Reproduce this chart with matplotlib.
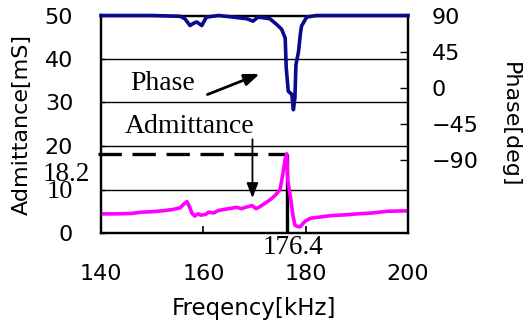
import matplotlib
matplotlib.use("Agg")
import matplotlib.pyplot as plt
from matplotlib import transforms

# ---- data ----
adm_freq = [140, 143, 146, 148, 150, 152, 154, 155.5, 156.3, 156.8, 157.3, 157.8, 158.3,
            159, 159.5, 160.5, 161, 162, 163, 165, 166.5, 167.5, 168.5, 169.5, 170.3, 171,
            172, 173, 174, 175, 175.6, 176, 176.3, 176.5, 176.8, 177.1, 177.5, 177.9, 178.4,
            178.9, 179.5, 180, 181, 183, 185, 188, 190, 193, 196, 200]
adm_val = [4.4, 4.4, 4.5, 4.8, 4.9, 5.1, 5.4, 5.8, 6.8, 7.2, 6.0, 4.5, 3.9,
           4.4, 4.1, 4.3, 4.8, 4.6, 5.2, 5.6, 5.9, 5.6, 6.0, 6.3, 5.6, 6.0,
           6.8, 7.6, 8.6, 10.0, 14.0, 17.0, 18.2, 12.0, 10.0, 7.6, 4.1, 1.8, 1.5,
           1.4, 2.2, 2.8, 3.4, 3.7, 4.0, 4.2, 4.4, 4.6, 5.0, 5.1]

ph_freq = [140, 150, 155.5, 156.4, 157.4, 158.0, 158.7, 159.7, 160.6, 163, 165.8, 168.5,
           169.7, 170.7, 173, 174.3, 175.3, 176.0, 176.2, 176.6, 177.3, 177.6, 177.9, 178.1,
           178.6, 179.0, 179.2, 180.2, 182.1, 190, 200]
ph_val = [90, 90, 89, 86, 77.5, 80, 82, 77.5, 88, 90, 88, 86,
          83, 88, 86, 79, 73, 62, 25, -4, -8, -27, -12, 29,
          45, 69, 77, 88, 90, 90, 90]

peak_freq = 176.4
peak_adm = 18.2

x_ticks = [140, 160, 180, 200]
y_ticks = [0, 10, 20, 30, 40, 50]
y2_ticks = [-90, -45, 0, 45, 90]
y2_labels = ["\u221290", "\u221245", "0", "45", "90"]

W, H = 529, 325
fig = plt.figure(figsize=(W / 100, H / 100), dpi=100)
ax = fig.add_axes([101 / W, (H - 233) / H, 307 / W, 217.5 / H])
ax2 = ax.twinx()

sans = "DejaVu Sans"
serif = "Liberation Serif"

ax.set_xlim(140, 200)
ax.set_ylim(0, 50)
ax2.set_ylim(-180, 90)

for a in (ax, ax2):
    for s in a.spines.values():
        s.set_linewidth(1.6)
        s.set_color("black")

# grid lines
for g in [10, 20, 30, 40]:
    ax.axhline(g, color="black", lw=1.0, zorder=1)

# peak marker lines
ax.plot([139.4, peak_freq], [peak_adm, peak_adm], color="black", lw=2.4,
        linestyle=(0, (7, 3.2)), clip_on=False, zorder=2, solid_capstyle="butt",
        dash_capstyle="butt")
ax.plot([peak_freq, peak_freq], [0, peak_adm], color="black", lw=2.4, zorder=2,
        solid_capstyle="butt")

# admittance curve
ax.plot(adm_freq, adm_val, color="#ff00ff", lw=2.6, zorder=3)

# phase curve
ax2.plot(ph_freq, ph_val, color="#0a0a8c", lw=2.6, zorder=3, clip_on=False)

# ticks
ax.set_xticks(x_ticks)
ax.set_xticklabels([str(v) for v in x_ticks], fontsize=16, family=sans)
ax.set_yticks(y_ticks)
ax.set_yticklabels([str(v) for v in y_ticks], fontsize=16, family=sans)
for lbl in ax.get_yticklabels():
    if lbl.get_text() == "10":
        lbl.set_fontfamily(serif)
        lbl.set_fontsize(19)
ax.tick_params(axis="y", direction="in", length=3, width=1, pad=20)
ax.tick_params(axis="x", direction="in", length=5, width=1.2, pad=22)
ax2.set_yticks(y2_ticks)
ax2.set_yticklabels(y2_labels, fontsize=16, family=sans)
ax2.tick_params(axis="y", direction="in", length=6, width=1, pad=17)

ax.set_xlabel("Freqency[kHz]", fontsize=16.5, family=sans, labelpad=10)
ax.set_ylabel("Admittance[mS]", fontsize=16, family=sans, labelpad=9)
ax2.set_ylabel("Phase[deg]", fontsize=16, family=sans, rotation=-90, labelpad=30)

# annotations
ax.annotate("", xy=(171.5, 36.8), xytext=(160.3, 31.6),
            arrowprops=dict(arrowstyle="-|>,head_length=0.9,head_width=0.35",
                            color="black", lw=2), zorder=5)
ax.text(152.0, 34.3, "Phase", fontsize=20, family=serif, ha="center", va="center",
        zorder=5)
ax.annotate("", xy=(169.6, 7.4), xytext=(169.6, 22.2),
            arrowprops=dict(arrowstyle="-|>,head_length=0.9,head_width=0.35",
                            color="black", lw=1.3), zorder=5)
ax.text(157.4, 24.4, "Admittance", fontsize=20, family=serif, ha="center",
        va="center", zorder=5)

trans = transforms.blended_transform_factory(ax.transAxes, ax.transData)
ax.text(-0.035, 13.4, "18.2", fontsize=19.5, family=serif, ha="right", va="center",
        transform=trans)
ax.text(177.6, -3.3, "176.4", fontsize=19.5, family=serif, ha="center", va="center")

fig.savefig("out.png", dpi=100)
